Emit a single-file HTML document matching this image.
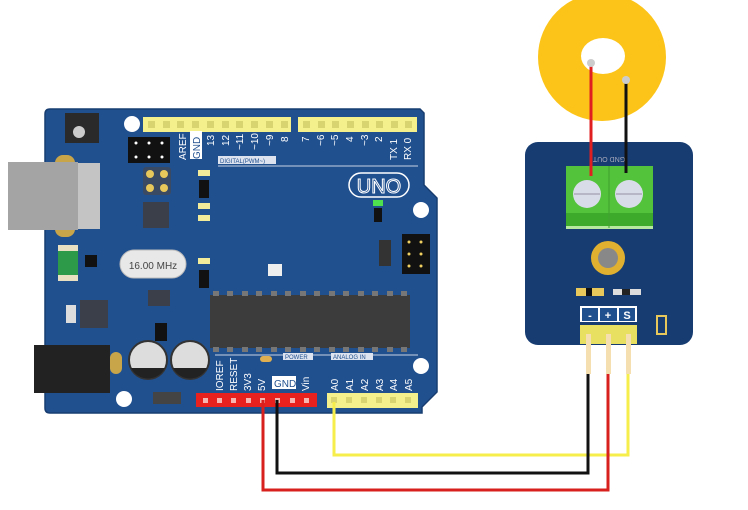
<!DOCTYPE html>
<html><head><meta charset="utf-8"><style>
html,body{margin:0;padding:0;background:#fff;}
svg{display:block;font-family:"Liberation Sans",sans-serif;}
</style></head><body>
<svg width="748" height="510" viewBox="0 0 748 510" xmlns="http://www.w3.org/2000/svg">
<rect width="748" height="510" fill="#fff"/>
<!-- Arduino board -->
<path d="M50 109 L420 109 L424 113 L424 185 L437 198 L437 392 L422 407 L422 413 L50 413 Q45 413 45 408 L45 114 Q45 109 50 109 Z" fill="#21508f" stroke="#173d70" stroke-width="1.5"/>
<!-- mounting holes -->
<circle cx="132" cy="124" r="8" fill="#fff"/>
<circle cx="421" cy="210" r="8" fill="#fff"/>
<circle cx="421" cy="366" r="8" fill="#fff"/>
<circle cx="124" cy="399" r="8" fill="#fff"/>
<!-- top headers -->
<rect x="143" y="117" width="148" height="15" fill="#f4f08c"/>
<rect x="298" y="117" width="119" height="15" fill="#f4f08c"/>
<g fill="#d8d470">
<rect x="148" y="121" width="7" height="7"/><rect x="163" y="121" width="7" height="7"/><rect x="177" y="121" width="7" height="7"/><rect x="192" y="121" width="7" height="7"/><rect x="207" y="121" width="7" height="7"/><rect x="222" y="121" width="7" height="7"/><rect x="236" y="121" width="7" height="7"/><rect x="251" y="121" width="7" height="7"/><rect x="266" y="121" width="7" height="7"/><rect x="281" y="121" width="7" height="7"/>
<rect x="303" y="121" width="7" height="7"/><rect x="318" y="121" width="7" height="7"/><rect x="332" y="121" width="7" height="7"/><rect x="347" y="121" width="7" height="7"/><rect x="362" y="121" width="7" height="7"/><rect x="376" y="121" width="7" height="7"/><rect x="391" y="121" width="7" height="7"/><rect x="405" y="121" width="7" height="7"/>
</g>
<!-- top labels -->
<g fill="#fff" font-size="10">
<text transform="translate(186,160) rotate(-90)">AREF</text>
<rect x="190" y="131" width="12" height="28" fill="#fff"/>
<text transform="translate(200,159) rotate(-90)" fill="#21508f">GND</text>
<text transform="translate(214,146) rotate(-90)">13</text>
<text transform="translate(229,146) rotate(-90)">12</text>
<text transform="translate(243,150) rotate(-90)">~11</text>
<text transform="translate(258,150) rotate(-90)">~10</text>
<text transform="translate(273,146) rotate(-90)">~9</text>
<text transform="translate(288,142) rotate(-90)">8</text>
<text transform="translate(309,142) rotate(-90)">7</text>
<text transform="translate(324,146) rotate(-90)">~6</text>
<text transform="translate(338,146) rotate(-90)">~5</text>
<text transform="translate(353,142) rotate(-90)">4</text>
<text transform="translate(368,146) rotate(-90)">~3</text>
<text transform="translate(382,142) rotate(-90)">2</text>
<text transform="translate(397,160) rotate(-90)">TX 1</text>
<text transform="translate(411,160) rotate(-90)">RX 0</text>
</g>
<rect x="218" y="156" width="58" height="8" fill="#dde3ef"/>
<text x="220" y="163" font-size="6" fill="#21508f">DIGITAL(PWM~)</text>
<line x1="218" y1="166" x2="418" y2="166" stroke="#c7d2e6" stroke-width="1"/>
<!-- UNO -->
<rect x="349" y="173" width="60" height="24" rx="12" fill="none" stroke="#fff" stroke-width="1.5"/>
<text x="379" y="193" font-size="20" fill="#21508f" stroke="#fff" stroke-width="1" text-anchor="middle">UNO</text>
<!-- reset button, ICSP -->
<rect x="65" y="113" width="34" height="30" fill="#2a2a2a"/>
<circle cx="79" cy="132" r="6" fill="#ccc"/>
<rect x="128" y="137" width="42" height="26" fill="#111"/>
<g fill="#fff"><circle cx="136" cy="143" r="1.5"/><circle cx="149" cy="143" r="1.5"/><circle cx="162" cy="143" r="1.5"/><circle cx="136" cy="157" r="1.5"/><circle cx="149" cy="157" r="1.5"/><circle cx="162" cy="157" r="1.5"/></g>
<rect x="402" y="234" width="28" height="40" fill="#111"/>
<g fill="#f0d060"><circle cx="409" cy="242" r="1.5"/><circle cx="421" cy="242" r="1.5"/><circle cx="409" cy="254" r="1.5"/><circle cx="421" cy="254" r="1.5"/><circle cx="409" cy="266" r="1.5"/><circle cx="421" cy="266" r="1.5"/></g>
<rect x="143" y="167" width="28" height="28" rx="3" fill="#3b4a63"/>
<circle cx="150" cy="174" r="4" fill="#e8c85a"/><circle cx="164" cy="174" r="4" fill="#e8c85a"/><circle cx="150" cy="188" r="4" fill="#e8c85a"/><circle cx="164" cy="188" r="4" fill="#e8c85a"/>
<rect x="143" y="202" width="26" height="26" fill="#3a3f4a"/>
<!-- USB -->
<rect x="55" y="155" width="20" height="22" rx="8" fill="#c9a54a"/>
<rect x="55" y="215" width="20" height="22" rx="8" fill="#c9a54a"/>
<rect x="8" y="162" width="70" height="68" fill="#a4a4a4"/>
<rect x="78" y="163" width="22" height="66" fill="#c4c4c4"/>
<!-- green part -->
<rect x="58" y="245" width="20" height="36" fill="#2d9a4a"/>
<rect x="58" y="245" width="20" height="6" fill="#e8e0c0"/>
<rect x="58" y="275" width="20" height="6" fill="#e8e0c0"/>
<rect x="85" y="255" width="12" height="12" fill="#111"/>
<!-- crystal -->
<rect x="120" y="250" width="66" height="28" rx="14" fill="#e8e8e8" stroke="#bbb"/>
<text x="153" y="269" font-size="10" fill="#444" text-anchor="middle">16.00 MHz</text>
<!-- regulator -->
<rect x="80" y="300" width="28" height="28" fill="#3a3f4a"/>
<rect x="66" y="305" width="10" height="18" fill="#ddd"/>
<rect x="148" y="290" width="22" height="16" fill="#3a3f4a"/>
<!-- small parts -->
<g fill="#f2ec9a"><rect x="198" y="170" width="12" height="6"/><rect x="198" y="203" width="12" height="6"/><rect x="198" y="215" width="12" height="6"/><rect x="198" y="258" width="12" height="6"/></g>
<rect x="199" y="180" width="10" height="18" fill="#111"/>
<rect x="199" y="270" width="10" height="18" fill="#111"/>
<rect x="268" y="264" width="14" height="12" fill="#eee"/>
<rect x="373" y="200" width="10" height="6" fill="#4fe04f"/>
<rect x="374" y="208" width="8" height="14" fill="#111"/>
<rect x="379" y="240" width="12" height="26" fill="#333"/>
<rect x="155" y="323" width="12" height="18" fill="#111"/>
<rect x="153" y="392" width="28" height="12" fill="#444"/>
<!-- capacitors -->
<circle cx="148" cy="360" r="19" fill="#ddd" stroke="#333" stroke-width="2"/>
<path d="M131 368 A19 19 0 0 0 165 368 Z" fill="#222"/>
<circle cx="190" cy="360" r="19" fill="#ddd" stroke="#333" stroke-width="2"/>
<path d="M173 368 A19 19 0 0 0 207 368 Z" fill="#222"/>
<!-- power jack -->
<rect x="34" y="345" width="76" height="48" fill="#222"/>
<rect x="110" y="352" width="12" height="22" rx="6" fill="#c9a54a"/>
<!-- chip -->
<rect x="210" y="295" width="200" height="53" fill="#3c3c3c"/>
<g fill="#777">
<rect x="213" y="291" width="6" height="5"/><rect x="227" y="291" width="6" height="5"/><rect x="242" y="291" width="6" height="5"/><rect x="256" y="291" width="6" height="5"/><rect x="271" y="291" width="6" height="5"/><rect x="285" y="291" width="6" height="5"/><rect x="300" y="291" width="6" height="5"/><rect x="314" y="291" width="6" height="5"/><rect x="329" y="291" width="6" height="5"/><rect x="343" y="291" width="6" height="5"/><rect x="358" y="291" width="6" height="5"/><rect x="372" y="291" width="6" height="5"/><rect x="387" y="291" width="6" height="5"/><rect x="401" y="291" width="6" height="5"/>
<rect x="213" y="347" width="6" height="5"/><rect x="227" y="347" width="6" height="5"/><rect x="242" y="347" width="6" height="5"/><rect x="256" y="347" width="6" height="5"/><rect x="271" y="347" width="6" height="5"/><rect x="285" y="347" width="6" height="5"/><rect x="300" y="347" width="6" height="5"/><rect x="314" y="347" width="6" height="5"/><rect x="329" y="347" width="6" height="5"/><rect x="343" y="347" width="6" height="5"/><rect x="358" y="347" width="6" height="5"/><rect x="372" y="347" width="6" height="5"/><rect x="387" y="347" width="6" height="5"/><rect x="401" y="347" width="6" height="5"/>
</g>
<!-- bottom labels -->
<line x1="215" y1="355" x2="418" y2="355" stroke="#c7d2e6"/>
<rect x="283" y="353" width="30" height="7" fill="#dde3ef"/><text x="285" y="359" font-size="6" fill="#21508f">POWER</text>
<rect x="331" y="353" width="42" height="7" fill="#dde3ef"/><text x="333" y="359" font-size="6" fill="#21508f">ANALOG IN</text>
<rect x="260" y="356" width="12" height="6" rx="3" fill="#e0b050"/>
<g fill="#fff" font-size="10">
<text transform="translate(223,391) rotate(-90)">IOREF</text>
<text transform="translate(237,391) rotate(-90)">RESET</text>
<text transform="translate(251,391) rotate(-90)">3V3</text>
<text transform="translate(265,391) rotate(-90)">5V</text>
<rect x="272" y="376" width="24" height="13" fill="#fff"/>
<text x="274" y="387" fill="#21508f">GND</text>
<text transform="translate(309,391) rotate(-90)">Vin</text>
<text transform="translate(338,391) rotate(-90)">A0</text>
<text transform="translate(353,391) rotate(-90)">A1</text>
<text transform="translate(368,391) rotate(-90)">A2</text>
<text transform="translate(383,391) rotate(-90)">A3</text>
<text transform="translate(397,391) rotate(-90)">A4</text>
<text transform="translate(412,391) rotate(-90)">A5</text>
</g>
<!-- bottom headers -->
<rect x="196" y="393" width="121" height="14" fill="#e8201e"/>
<g fill="#f6b5b0"><rect x="203" y="398" width="5" height="5"/><rect x="217" y="398" width="5" height="5"/><rect x="231" y="398" width="5" height="5"/><rect x="246" y="398" width="5" height="5"/><rect x="260" y="398" width="5" height="5"/><rect x="275" y="398" width="5" height="5"/><rect x="290" y="398" width="5" height="5"/><rect x="304" y="398" width="5" height="5"/></g>
<rect x="327" y="393" width="91" height="15" fill="#f4f08c"/>
<g fill="#d8d470"><rect x="331" y="397" width="6" height="6"/><rect x="346" y="397" width="6" height="6"/><rect x="361" y="397" width="6" height="6"/><rect x="376" y="397" width="6" height="6"/><rect x="390" y="397" width="6" height="6"/><rect x="405" y="397" width="6" height="6"/></g>
<!-- wires -->
<polyline points="334,402 334,455 628,455 628,372" fill="none" stroke="#f6ee4a" stroke-width="3"/>
<polyline points="277,400 277,473 588,473 588,372" fill="none" stroke="#111" stroke-width="3"/>
<polyline points="263,400 263,490 608,490 608,372" fill="none" stroke="#d8201e" stroke-width="3"/>
<!-- piezo disc -->
<circle cx="602" cy="57" r="64" fill="#fcc419"/>
<ellipse cx="603" cy="56" rx="22" ry="18" fill="#fff"/>
<!-- sensor board -->
<rect x="525" y="142" width="168" height="203" rx="13" fill="#163c72"/>
<rect x="566" y="166" width="87" height="62" fill="#52c33a"/>
<rect x="566" y="213" width="87" height="15" fill="#3eaa2c"/>
<rect x="566" y="226" width="87" height="3" fill="#b6e8a0"/>
<line x1="609" y1="166" x2="609" y2="228" stroke="#40a030" stroke-width="1"/>
<text x="609" y="163" font-size="7" fill="#aab" text-anchor="middle" transform="rotate(180 609 160)">GND OUT</text>
<circle cx="587" cy="194" r="14" fill="#d8dce8"/><line x1="574" y1="194" x2="600" y2="194" stroke="#aab" stroke-width="1.5"/>
<circle cx="629" cy="194" r="14" fill="#d8dce8"/><line x1="616" y1="194" x2="642" y2="194" stroke="#aab" stroke-width="1.5"/>
<!-- piezo wires -->
<line x1="591" y1="63" x2="591" y2="176" stroke="#e02020" stroke-width="3"/>
<circle cx="591" cy="63" r="4" fill="#ccc"/>
<line x1="626" y1="80" x2="626" y2="173" stroke="#111" stroke-width="3"/>
<circle cx="626" cy="80" r="4" fill="#ccc"/>
<!-- mount -->
<circle cx="608" cy="258" r="17" fill="#e0b030"/>
<circle cx="608" cy="258" r="10" fill="#888"/>
<rect x="576" y="288" width="28" height="8" fill="#e8c85a"/><rect x="586" y="288" width="6" height="8" fill="#111"/>
<rect x="613" y="289" width="28" height="6" fill="#ddd"/><rect x="622" y="289" width="8" height="6" fill="#222"/>
<rect x="657" y="316" width="9" height="18" fill="none" stroke="#e8c85a" stroke-width="2"/>
<!-- pin labels -->
<rect x="580" y="306" width="57" height="16" fill="#fff"/>
<rect x="582" y="308" width="16" height="13" fill="#21508f"/><rect x="600" y="308" width="17" height="13" fill="#21508f"/><rect x="619" y="308" width="16" height="13" fill="#21508f"/>
<text x="590" y="319" font-size="11" font-weight="bold" fill="#fff" text-anchor="middle">-</text>
<text x="608" y="319" font-size="11" font-weight="bold" fill="#fff" text-anchor="middle">+</text>
<text x="627" y="319" font-size="11" font-weight="bold" fill="#fff" text-anchor="middle">S</text>
<rect x="580" y="325" width="57" height="19" fill="#e8e060"/>
<g fill="#f5deb0"><rect x="586" y="334" width="5" height="40"/><rect x="606" y="334" width="5" height="40"/><rect x="626" y="334" width="5" height="40"/></g>
</svg>
</body></html>
